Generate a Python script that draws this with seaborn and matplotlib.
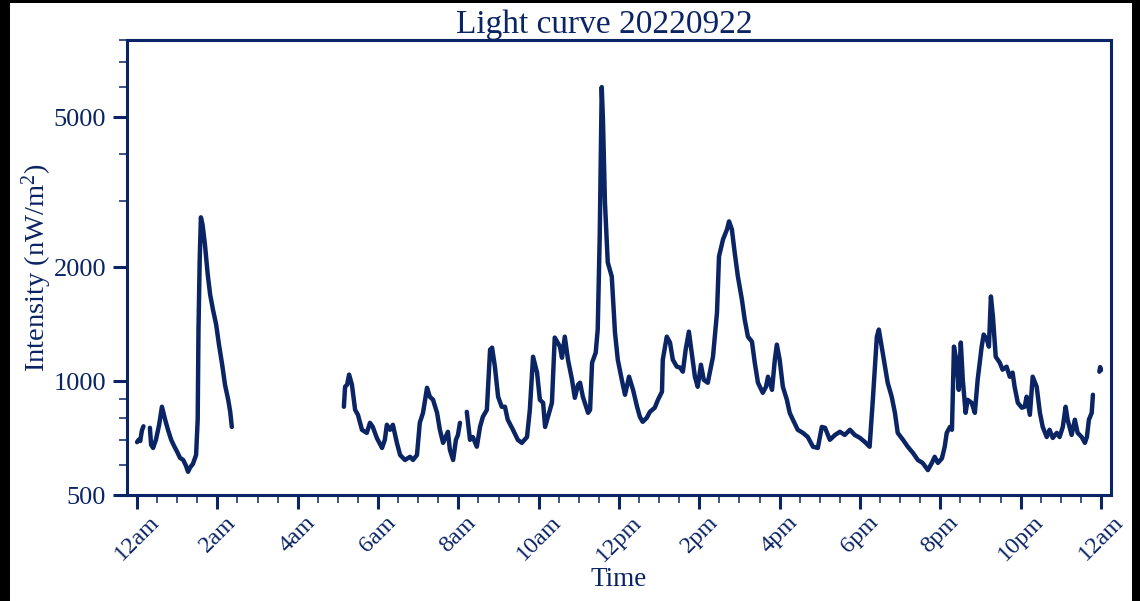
import matplotlib
matplotlib.use("Agg")
import numpy as np
import pandas as pd
import matplotlib.pyplot as plt
import seaborn as sns
from matplotlib.patches import Rectangle
from matplotlib.ticker import FixedLocator, MultipleLocator, NullFormatter

NAVY = "#0a2464"

# Light curve of 2022-09-22: hours since midnight and intensity in nW/m^2.
# The sensor record has gaps, so the day is stored as separate runs.
hours_a = [0.00, 0.04, 0.08, 0.12, 0.16]
vals_a = [690, 700, 695, 740, 760]

hours_b = [0.32, 0.35, 0.40, 0.47, 0.55, 0.62, 0.70, 0.77, 0.85, 0.92, 1.00, 1.07,
           1.15, 1.22, 1.27, 1.32, 1.39, 1.47, 1.51, 1.53, 1.56, 1.59, 1.63, 1.69,
           1.76, 1.82, 1.89, 1.97, 2.04, 2.12, 2.19, 2.27, 2.32, 2.36]
vals_b = [753, 679, 666, 700, 767, 856, 791, 744, 700, 675, 650, 627,
          619, 597, 576, 591, 604, 638, 791, 1370, 2100, 2715, 2601, 2302,
          1917, 1696, 1548, 1412, 1250, 1106, 979, 893, 830, 757]

hours_c = [5.15, 5.18, 5.23, 5.28, 5.35, 5.43, 5.50, 5.60, 5.72, 5.80, 5.87, 5.97,
           6.10, 6.17, 6.22, 6.30, 6.37, 6.47, 6.55, 6.67, 6.80, 6.87, 6.97, 7.04,
           7.12, 7.22, 7.29, 7.37, 7.47, 7.54, 7.62, 7.74, 7.79, 7.87, 7.94, 7.99, 8.04]
vals_c = [856, 967, 979, 1041, 979, 840, 815, 744, 730, 776, 757, 708,
          666, 700, 767, 744, 767, 687, 638, 619, 631, 619, 638, 776,
          825, 961, 910, 893, 825, 744, 687, 735, 658, 619, 700, 721, 776]

hours_d = [8.21, 8.29, 8.36, 8.46, 8.54, 8.61, 8.71, 8.79, 8.84, 8.91, 8.99, 9.08,
           9.16, 9.23, 9.36, 9.48, 9.58, 9.71, 9.78, 9.86, 9.96, 10.03, 10.11, 10.16,
           10.23, 10.33, 10.40, 10.53, 10.58, 10.65, 10.73, 10.83, 10.90, 10.98, 11.03, 11.10,
           11.15, 11.23, 11.28, 11.33, 11.42, 11.47, 11.52, 11.57, 11.60, 11.65, 11.72, 11.82,
           11.90, 11.97, 12.07, 12.15, 12.25, 12.35, 12.45, 12.52, 12.59, 12.69, 12.77, 12.89,
           12.97, 13.07, 13.09, 13.19, 13.27, 13.34, 13.44, 13.52, 13.59, 13.66, 13.74, 13.81,
           13.89, 13.96, 14.04, 14.11, 14.21, 14.34, 14.44, 14.49, 14.59, 14.69, 14.74, 14.81,
           14.88, 14.96, 15.06, 15.13, 15.21, 15.31, 15.38, 15.46, 15.58, 15.66, 15.71, 15.81,
           15.88, 15.93, 16.00, 16.08, 16.18, 16.25, 16.33, 16.45, 16.58, 16.70, 16.83, 16.95,
           17.05, 17.13, 17.25, 17.38, 17.50, 17.62, 17.75, 17.87, 18.00, 18.12, 18.24, 18.32,
           18.42, 18.47, 18.54, 18.62, 18.69, 18.79, 18.87, 18.94, 19.07, 19.19, 19.32, 19.44,
           19.56, 19.69, 19.79, 19.86, 19.94, 20.04, 20.11, 20.16, 20.24, 20.29, 20.34, 20.41,
           20.46, 20.51, 20.56, 20.63, 20.68, 20.78, 20.86, 20.93, 21.03, 21.08, 21.16, 21.21,
           21.26, 21.31, 21.38, 21.48, 21.55, 21.65, 21.73, 21.80, 21.85, 21.93, 22.03, 22.10,
           22.15, 22.23, 22.30, 22.40, 22.48, 22.55, 22.65, 22.72, 22.80, 22.90, 22.97, 23.05,
           23.12, 23.17, 23.27, 23.35, 23.42, 23.52, 23.60, 23.65, 23.70, 23.77, 23.80]
vals_d = [830, 700, 712, 671, 757, 805, 840, 1212, 1227, 1093, 910, 856,
          856, 791, 744, 700, 687, 712, 840, 1161, 1054, 893, 877, 757,
          805, 877, 1305, 1235, 1154, 1312, 1140, 1009, 904, 979, 991, 910,
          877, 825, 840, 1120, 1190, 1370, 2417, 6005, 4939, 2975, 2063, 1893,
          1345, 1140, 1009, 921, 1028, 949, 856, 805, 781, 800, 830, 851,
          893, 938, 1140, 1312, 1266, 1140, 1093, 1087, 1060, 1212, 1353, 1190,
          1028, 967, 1106, 1009, 991, 1161, 1520, 2140, 2373, 2523, 2649, 2523,
          2193, 1893, 1645, 1456, 1312, 1273, 1120, 991, 932, 967, 1028, 949,
          1140, 1250, 1140, 967, 893, 825, 791, 744, 730, 712, 671, 666,
          757, 753, 700, 721, 735, 721, 744, 721, 708, 691, 671, 893,
          1312, 1370, 1235, 1093, 991, 910, 825, 730, 700, 671, 646, 619,
          608, 582, 608, 631, 608, 625, 671, 730, 757, 744, 1235, 1120,
          949, 1266, 1009, 825, 893, 877, 825, 1009, 1235, 1329, 1289, 1235,
          1676, 1483, 1161, 1120, 1073, 1093, 1028, 1054, 967, 877, 851, 856,
          910, 815, 1028, 967, 825, 757, 712, 744, 708, 730, 712, 757,
          856, 791, 721, 791, 730, 712, 687, 712, 791, 825, 921]

hours_e = [23.96, 23.98, 24.00]
vals_e = [1060, 1090, 1070]

runs = [(hours_a, vals_a), (hours_b, vals_b), (hours_c, vals_c),
        (hours_d, vals_d), (hours_e, vals_e)]
df = pd.concat(
    [pd.DataFrame({"hour": h, "intensity": v, "run": i}) for i, (h, v) in enumerate(runs)],
    ignore_index=True,
)

tick_hours = list(range(0, 25, 2))
tick_labels = ["12am", "2am", "4am", "6am", "8am", "10am", "12pm",
               "2pm", "4pm", "6pm", "8pm", "10pm", "12am"]
y_major = [500, 1000, 2000, 5000]
y_minor = [600, 700, 800, 900, 3000, 4000, 6000, 7000, 8000]

sns.set_theme(style="white")
plt.rcParams["font.family"] = ["Liberation Serif", "DejaVu Serif"]
plt.rcParams["mathtext.default"] = "regular"

fig = plt.figure(figsize=(11.4, 6.01), dpi=100)
fig.patch.set_facecolor("black")
fig.add_artist(Rectangle((10 / 1140, 0), 1122 / 1140, 598 / 601,
                         transform=fig.transFigure, facecolor="white",
                         edgecolor="none", zorder=-10))

ax = fig.add_axes([127 / 1140, 1 - 495 / 601, 984 / 1140, 455 / 601])
ax.set_facecolor("white")

sns.lineplot(data=df, x="hour", y="intensity", units="run", estimator=None,
             color=NAVY, linewidth=3.2, ax=ax)

ax.set_yscale("log")
ax.set_ylim(500, 8000)
ax.set_xlim(-0.25, 24.25)

ax.set_xticks(tick_hours)
ax.set_xticklabels(tick_labels, rotation=45, ha="center")
ax.xaxis.set_minor_locator(MultipleLocator(0.5))
ax.set_yticks(y_major)
ax.set_yticklabels([str(v) for v in y_major])
ax.yaxis.set_minor_locator(FixedLocator(y_minor))
ax.yaxis.set_minor_formatter(NullFormatter())

ax.tick_params(which="major", direction="out", length=10, width=2.2,
               color=NAVY, labelcolor=NAVY, labelsize=19)
ax.tick_params(axis="x", which="major", pad=2, labelsize=17.5)
ax.tick_params(axis="y", which="major", pad=5)
ax.tick_params(which="minor", direction="out", length=6, width=1.1, color=NAVY)
ax.tick_params(left=True, bottom=True, which="both")

for sp in ax.spines.values():
    sp.set_color(NAVY)
    sp.set_linewidth(2.2)
    sp.set_visible(True)

ax.set_xlabel("Time", fontsize=19.5, color=NAVY)
ax.xaxis.set_label_coords(0.5, -0.158)
ax.set_ylabel("Intensity (nW/m$^2$)", fontsize=20.5, color=NAVY)
ax.yaxis.set_label_coords(-0.074, 0.5)

fig.text(604 / 1140, 1 - 33 / 601, "Light curve 20220922", ha="center",
         va="baseline", fontsize=24, color=NAVY)

fig.savefig("out.png", dpi=100, facecolor=fig.get_facecolor())
